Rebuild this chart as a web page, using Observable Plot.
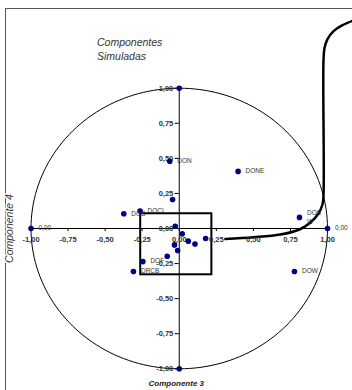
<!DOCTYPE html>
<html><head><meta charset="utf-8">
<script src="https://cdn.jsdelivr.net/npm/d3@7"></script>
<script src="https://cdn.jsdelivr.net/npm/@observablehq/plot@0.6"></script>
<style>html,body{margin:0;padding:0;background:#fff;} svg{display:block;}</style>
</head><body><div id="chart"></div>
<script>
// Loadings (Componente 3 on x, Componente 4 on y)
const pointNames = ["", "", "0,00", "0,00", "DON", "DONE", "", "DOS", "DOCL", "", "", "", "", "", "", "", "", "DOF", "DRCB", "DOS\nW", "DOW"];
const comp3 = [0, 0, -1, 1, -0.064, 0.397, -0.045, -0.374, -0.264, -0.027, 0.020, 0.061, 0.106, 0.178, -0.032, -0.011, -0.081, -0.245, -0.309, 0.811, 0.777];
const comp4 = [1, -1, 0, 0, 0.479, 0.407, 0.207, 0.105, 0.124, 0.016, -0.038, -0.090, -0.110, -0.071, -0.117, -0.157, -0.198, -0.236, -0.307, 0.079, -0.307];

const axisTicks = [-1, -0.75, -0.5, -0.25, 0, 0.25, 0.5, 0.75, 1];
const tickLabels = ["-1,00", "-0,75", "-0,50", "-0,25", "0,00", "0,25", "0,50", "0,75", "1,00"];

// zoom box and callout drawn over the chart (data units)
const zoomBoxX = [-0.26, 0.22];
const zoomBoxY = [-0.33, 0.105];
const calloutX = [0.311, 0.50, 0.682, 0.811, 0.885, 0.939, 0.966, 0.973, 0.973, 0.980, 1.000, 1.041, 1.095, 1.182];
const calloutY = [-0.074, -0.062, -0.043, -0.007, 0.043, 0.107, 0.171, 0.236, 1.200, 1.286, 1.350, 1.407, 1.446, 1.486];

const points = comp3.map((x, i) => ({x, y: comp4[i], name: pointNames[i]}));
const callout = calloutX.map((x, i) => ({x, y: calloutY[i]}));
// unit correlation circle (geometric reference, not data)
const unitCircle = d3.range(0, 361, 2).map(a => ({x: Math.cos(a * Math.PI / 180), y: Math.sin(a * Math.PI / 180)}));

const font = "Liberation Sans, Arial, sans-serif";

const chart = Plot.plot({
  width: 352,
  height: 390,
  marginTop: 8,
  marginLeft: 5,
  marginRight: -10,
  marginBottom: -10,
  x: {domain: [-1, 1], range: [30.5, 327], axis: null},
  y: {domain: [-1, 1], range: [368.3, 87.7], axis: null},
  style: {fontFamily: font, background: "#fff", overflow: "hidden"},
  marks: [
    Plot.frame({stroke: "#555", strokeWidth: 1}),
    Plot.line(unitCircle, {x: "x", y: "y", stroke: "#000", strokeWidth: 1}),
    // axes
    Plot.ruleY([0], {x1: -1, x2: 1, stroke: "#000", strokeWidth: 1}),
    Plot.ruleX([0], {y1: -1, y2: 1, stroke: "#000", strokeWidth: 1}),
    Plot.ruleX(axisTicks, {x: d => d, y1: 0, y2: -0.022, stroke: "#000"}),
    Plot.ruleY(axisTicks, {y: d => d, x1: -0.028, x2: 0, stroke: "#000"}),
    // zoom box + callout
    Plot.rect([0], {x1: zoomBoxX[0], x2: zoomBoxX[1], y1: zoomBoxY[0], y2: zoomBoxY[1], fill: "none", stroke: "#000", strokeWidth: 2}),
    Plot.line(callout, {x: "x", y: "y", curve: "catmull-rom", stroke: "#000", strokeWidth: 2.5}),
    // tick labels
    Plot.text(axisTicks, {x: d => d, y: 0, text: (d, i) => tickLabels[i], dy: 11, fontSize: 7.5, fontWeight: "bold", fill: "#333"}),
    Plot.text(axisTicks, {x: 0, y: d => d, text: (d, i) => tickLabels[i], dx: -6, textAnchor: "end", fontSize: 7.5, fontWeight: "bold", fill: "#333"}),
    // points
    Plot.dot(points, {x: "x", y: "y", r: 2.8, fill: "#000080", stroke: "none"}),
    Plot.text(points, {x: "x", y: "y", text: "name", dx: 7.5, dy: -1, textAnchor: "start", lineHeight: 1.35, fontSize: 6.5, fill: "#333"}),
    // titles
    Plot.text(["Componentes\nSimuladas"], {x: -1, y: 1, text: d => d, dx: 66, dy: -39.5, textAnchor: "start", lineHeight: 1.27, fontSize: 10.5, fontStyle: "italic", fill: "#333"}),
    Plot.text(["Componente 3"], {x: 0, y: -1, text: d => d, dx: -3, dy: 15, fontSize: 8, fontWeight: "bold", fontStyle: "italic", fill: "#222"}),
    Plot.text(["Componente 4"], {x: -1, y: 0, text: d => d, dx: -21.5, dy: 0, rotate: -90, fontSize: 10.5, fontStyle: "italic", fill: "#333", stroke: "#fff", strokeWidth: 3})
  ]
});
document.getElementById("chart").appendChild(chart);
</script>
</body></html>
